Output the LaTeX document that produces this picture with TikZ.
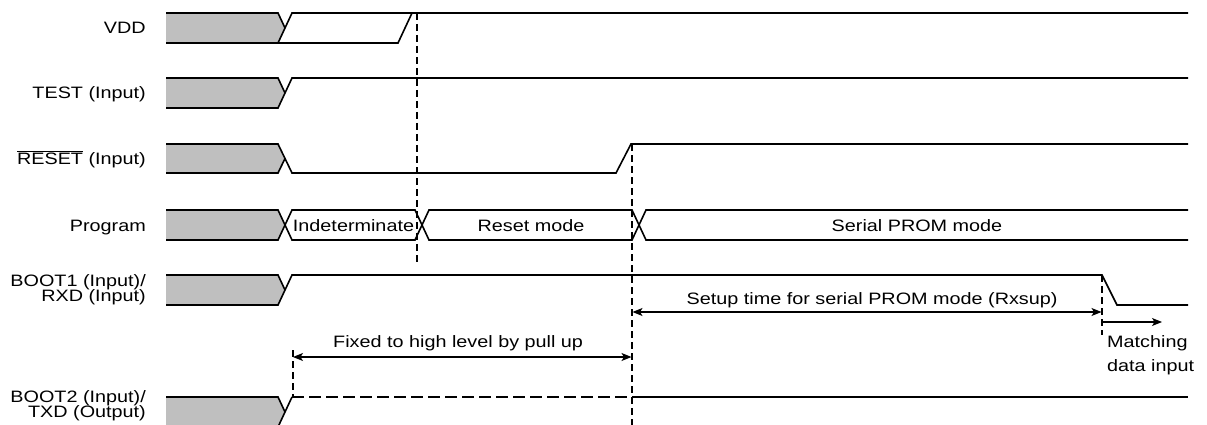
\documentclass[tikz,border=0pt]{standalone}
\usepackage{fontspec}
\setmainfont[FakeStretch=1.2]{Liberation Sans}
\usetikzlibrary{arrows.meta}
\begin{document}
\begin{tikzpicture}[x=1pt,y=-1pt,
  sig/.style={line width=1.6pt, line join=miter},
  greyfill/.style={fill=black!25},
  guide/.style={line width=1.3pt, dash pattern=on 7pt off 4pt},
  lowdash/.style={line width=1.6pt, dash pattern=on 12pt off 5pt},
  lbl/.style={font=\fontsize{16.5pt}{18pt}\selectfont, anchor=base east, inner sep=0pt},
  txt/.style={font=\fontsize{16.5pt}{18pt}\selectfont, inner sep=0pt},
  tip/.tip={Stealth[length=10pt,width=8pt,inset=2.5pt]},
  dimline/.style={line width=1.2pt, tip-tip},
  onearrow/.style={line width=1.2pt, -tip}]
\useasboundingbox (0,0) rectangle (1207,425);

% grey "don't care" blocks
\foreach \t/\b in {13/43, 78/108, 144/173, 210/240, 275/305, 397/427}{
  \fill[greyfill] (166,\t) -- (278,\t) -- (285,{(\t+\b)/2}) -- (278,\b) -- (166,\b) -- cycle;
}

% labels
\node[lbl] (lvdd) at (146,34) {VDD};
\node[lbl] (ltest) at (146,99) {TEST (Input)};
\node[lbl] (lreset) at (146,164.5) {$\overline{\mbox{RESET}}$ (Input)};
\node[lbl] (lprog) at (146,231) {Program};
\node[lbl] (lboota) at (146,286) {BOOT1 (Input)/};
\node[lbl] (lbootb) at (146,301) {RXD (Input)};
\node[lbl] (lbootc) at (146,402) {BOOT2 (Input)/};
\node[lbl] (lbootd) at (146,417) {TXD (Output)};

% VDD
\draw[sig] (166,13) -- (278,13) -- (285,28);
\draw[sig] (166,43) -- (278,43) -- (292,13) -- (1188,13);
\draw[sig] (278,43) -- (398,43) -- (412,13);

% TEST
\draw[sig] (166,78) -- (278,78) -- (285,93);
\draw[sig] (166,108) -- (278,108) -- (292,78) -- (1188,78);

% RESET
\draw[sig] (166,144) -- (278,144) -- (292,173) -- (616,173) -- (631,144) -- (1188,144);
\draw[sig] (166,173) -- (278,173) -- (285,158.5);

% Program bus
\draw[sig] (166,210) -- (278,210) -- (292,240) -- (415,240) -- (429,210) -- (632,210) -- (646,240) -- (1188,240);
\draw[sig] (166,240) -- (278,240) -- (292,210) -- (415,210) -- (429,240) -- (632,240) -- (646,210) -- (1188,210);
\node[txt, anchor=base] (tind) at (353.5,231) {Indeterminate};
\node[txt, anchor=base] (treset) at (531,231) {Reset mode};
\node[txt, anchor=base] (tserial) at (917,231) {Serial PROM mode};

% BOOT1
\draw[sig] (166,275) -- (278,275) -- (285,290);
\draw[sig] (166,305) -- (278,305) -- (292,275) -- (1102,275) -- (1117,305) -- (1188,305);

% BOOT2
\draw[sig] (166,397) -- (278,397) -- (285,412);
\draw[sig] (166,427) -- (278,427) -- (292,397);
\draw[lowdash] (292,397) -- (632,397);
\draw[sig] (632,397) -- (1188,397);

% guide lines
\draw[guide] (417,13) -- (417,265);
\draw[guide] (632,144) -- (632,425);
\draw[guide] (293,350) -- (293,397);
\draw[guide] (1102,275) -- (1102,335);

% dimension arrows
\coordinate (fixa) at (293,357);
\coordinate (fixb) at (631.5,357);
\draw[dimline] (fixa) -- (fixb);
\node[txt, anchor=base west] (tfix) at (333,347) {Fixed to high level by pull up};

\coordinate (seta) at (632.5,312);
\coordinate (setb) at (1101.5,312);
\draw[dimline] (seta) -- (setb);
\node[txt, anchor=base west] (tset) at (686.5,304) {Setup time for serial PROM mode (Rxsup)};

\coordinate (mata) at (1102.5,322);
\coordinate (matb) at (1162,322);
\draw[onearrow] (mata) -- (matb);
\node[txt, anchor=base west] (tmat1) at (1107,347) {Matching};
\node[txt, anchor=base west] (tmat2) at (1107,371) {data input};
\end{tikzpicture}
\end{document}
